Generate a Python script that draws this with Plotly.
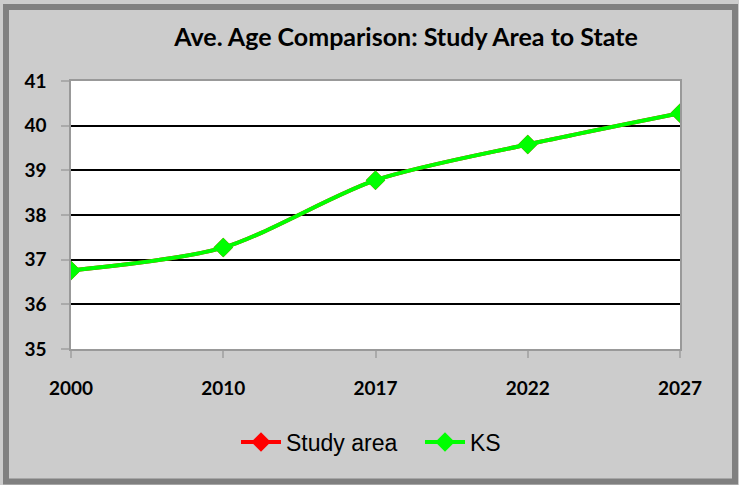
import plotly.graph_objects as go

years = ["2000", "2010", "2017", "2022", "2027"]
study_area = [36.76, 37.27, 38.78, 39.58, 40.28]
ks = [36.76, 37.27, 38.78, 39.58, 40.28]
y_ticks = [35, 36, 37, 38, 39, 40, 41]

fig = go.Figure()
fig.add_trace(go.Scatter(
    x=years, y=study_area, name="Study area", mode="lines+markers",
    line=dict(color="#ff0000", width=4, shape="spline", smoothing=0.8),
    marker=dict(symbol="diamond", size=15, color="#ff0000"),
))
fig.add_trace(go.Scatter(
    x=years, y=ks, name="KS", mode="lines+markers",
    line=dict(color="#00ff00", width=4, shape="spline", smoothing=0.8),
    marker=dict(symbol="diamond", size=15, color="#00ff00"),
))

L, R, T, B = 71, 59, 81, 136
W, H = 739, 485
pw, ph = W - L - R, H - T - B

def px(x):
    return (x - L) / pw

def py(y):
    return (H - B - y) / ph

fig.update_layout(
    width=W, height=H,
    margin=dict(l=L, r=R, t=T, b=B),
    paper_bgcolor="#cccccc",
    plot_bgcolor="#ffffff",
    title=dict(
        text="<b>Ave. Age Comparison: Study Area to State</b>",
        x=px(406), xref="paper", xanchor="center",
        y=1 - 37 / H, yref="container", yanchor="middle",
        font=dict(family="Lato", size=25, color="#000000"),
    ),
    xaxis=dict(
        type="category", range=[0, 4],
        showline=True, linecolor="#999999", linewidth=1.5, mirror=True,
        ticks="outside", ticklen=7, tickcolor="#aaaaaa", tickwidth=1.5,
        showgrid=False,
        tickfont=dict(family="Lato", size=19, color="#000000", weight="bold"),
        ticklabelstandoff=14,
    ),
    yaxis=dict(
        range=[35, 41], tickvals=y_ticks,
        showline=True, linecolor="#999999", linewidth=1.5, mirror=True,
        ticks="outside", ticklen=8, tickcolor="#aaaaaa", tickwidth=1.5,
        showgrid=True, gridcolor="#000000", gridwidth=1.5,
        zeroline=False,
        tickfont=dict(family="Lato", size=19, color="#000000", weight="bold"),
        ticklabelstandoff=11,
    ),
    legend=dict(
        orientation="h", x=px(420), xanchor="center",
        y=py(442), yanchor="middle",
        bgcolor="rgba(0,0,0,0)",
        font=dict(family="Liberation Sans", size=23, color="#000000"),
        itemwidth=40, entrywidth=129, entrywidthmode="pixels",
    ),
    showlegend=True,
    shapes=[dict(
        type="rect", xref="paper", yref="paper", layer="below",
        x0=px(6), x1=px(735), y0=py(481.5), y1=py(7),
        line=dict(color="#808080", width=6), fillcolor="rgba(0,0,0,0)",
    )],
)

fig.write_html("out.html", config={"displayModeBar": False},
               post_script="document.body.style.margin='0';")
